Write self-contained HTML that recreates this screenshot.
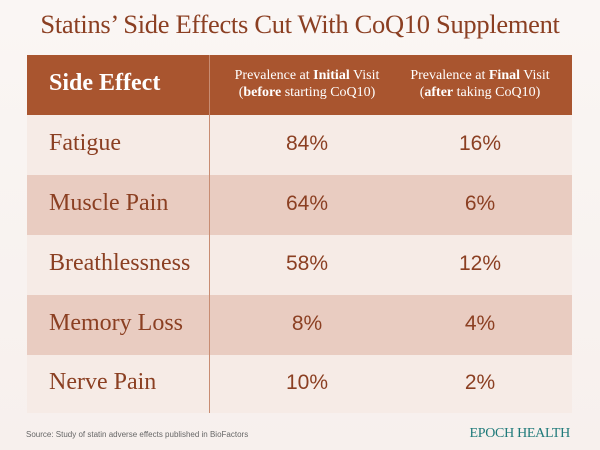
<!DOCTYPE html>
<html><head><style>
body{margin:0;width:600px;height:450px;background:linear-gradient(#faf6f4,#f7f0ed);position:relative;overflow:hidden;font-family:"Liberation Serif",serif;}
.t{position:absolute;top:9px;left:0;width:600px;text-align:center;font-size:26.5px;color:#8b3f22;letter-spacing:-0.3px}
.tbl{position:absolute;left:27px;top:55px;width:545px}
.r{height:60px;display:flex;align-items:center;position:relative}
.h{background:#a9552f;height:60px;color:#fff}
.c1{width:182px;padding-left:22px;box-sizing:border-box;font-size:24px;color:#8b3f22;white-space:nowrap;margin-top:-3px}
.c2,.c3{text-align:center;font-family:"Liberation Sans",sans-serif;font-size:21px;color:#8b3f22;margin-top:-3px}
.c2{width:196px}.c3{width:150px}
.h .c1{color:#fff;font-weight:bold;font-size:24px}
.h .c2,.h .c3{font-family:"Liberation Serif",serif;color:#fff;font-size:14px;line-height:17px;white-space:nowrap;margin-top:-2px}
.l{background:#f6ebe6}.d{background:#e9ccc1}
.div{position:absolute;left:209px;top:55px;width:1px;height:358px;background:#c88c72}
.src{position:absolute;left:26px;top:430px;font-family:"Liberation Sans",sans-serif;font-size:8px;color:#666}
.ep{position:absolute;right:30px;top:426px;font-size:14px;color:#1f7a7a;letter-spacing:-0.3px}
</style></head><body>
<div class="t">Statins’ Side Effects Cut With CoQ10 Supplement</div>
<div class="tbl">
<div class="r h"><div class="c1">Side Effect</div><div class="c2">Prevalence at <b>Initial</b> Visit<br>(<b>before</b> starting CoQ10)</div><div class="c3">Prevalence at <b>Final</b> Visit<br>(<b>after</b> taking CoQ10)</div></div>
<div class="r l"><div class="c1">Fatigue</div><div class="c2">84%</div><div class="c3">16%</div></div>
<div class="r d"><div class="c1">Muscle Pain</div><div class="c2">64%</div><div class="c3">6%</div></div>
<div class="r l"><div class="c1">Breathlessness</div><div class="c2">58%</div><div class="c3">12%</div></div>
<div class="r d"><div class="c1">Memory Loss</div><div class="c2">8%</div><div class="c3">4%</div></div>
<div class="r l" style="height:58px"><div class="c1">Nerve Pain</div><div class="c2">10%</div><div class="c3">2%</div></div>
</div>
<div class="div"></div>
<div class="src">Source: Study of statin adverse effects published in BioFactors</div>
<div class="ep">EPOCH HEALTH</div>
</body></html>
